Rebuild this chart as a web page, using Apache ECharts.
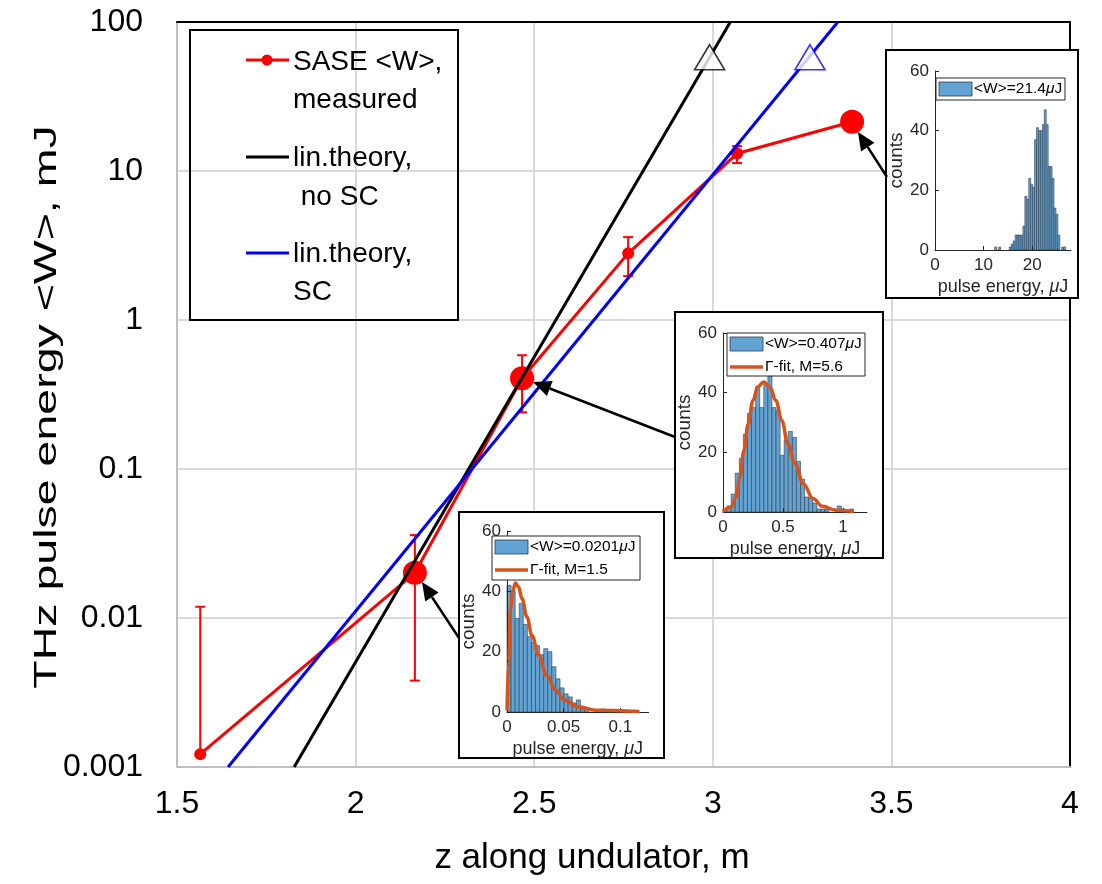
<!DOCTYPE html>
<html><head><meta charset="utf-8">
<script src="https://cdn.jsdelivr.net/npm/echarts@6/dist/echarts.min.js"></script>
<style>html,body{margin:0;padding:0;background:#fff}#c{width:1102px;height:884px}</style>
</head><body><div id="c"></div>
<script>
// ---------- main chart data ----------
const zMeasured = [1.565, 2.166, 2.466, 2.763, 3.068, 3.39];
const wMeasured = [0.00122, 0.0201, 0.407, 2.8, 13.1, 21.4];
const wErrLow  = [null, 0.0038, 0.24, 1.97, 11.3, null];
const wErrHigh = [0.0119, 0.036, 0.58, 3.6, 14.7, null];
const zLinNoSC = [1.828, 3.049];
const wLinNoSC = [0.001, 100];
const zLinSC = [1.643, 3.35];
const wLinSC = [0.001, 100];
const zSatMarks = [2.991, 3.272];
const wSatMarks = [58, 58];
const xTickLabels = ['1.5', '2', '2.5', '3', '3.5', '4'];
const yTickLabels = ['0.001', '0.01', '0.1', '1', '10', '100'];

// ---------- inset histograms (pulse energy in uJ, counts) ----------
const hist1Centers = [12.5, 13.3, 15.5, 15.9, 16.3, 16.7, 17.1, 17.5, 17.9, 18.3, 18.7, 19.1, 19.5, 19.9, 20.3, 20.7, 21.1, 21.5, 21.9, 22.3, 22.7, 23.1, 23.5, 23.9, 24.3, 24.7, 25.1, 25.5, 25.9, 26.3, 26.7];
const hist1Counts  = [1, 1, 1, 2, 3, 5, 5, 5, 5, 8, 18, 17, 24, 22, 21, 37, 41, 40, 40, 42, 47, 42, 28, 28, 24, 14, 12, 5, 0, 1, 1];
const hist1BinWidth = 0.4;
const hist1Mean = '21.4';

const hist2Centers = [0.017, 0.051, 0.085, 0.119, 0.153, 0.187, 0.221, 0.255, 0.289, 0.323, 0.357, 0.391, 0.425, 0.459, 0.493, 0.527, 0.561, 0.595, 0.629, 0.663, 0.697, 0.731, 0.765, 0.799, 0.833, 0.867, 0.901, 0.935, 0.969, 1.003, 1.037, 1.071];
const hist2Counts  = [1, 2, 6, 13, 18, 26, 33, 35, 42, 35, 43, 46, 35, 34, 19, 24, 27, 25, 17, 11, 5, 5, 3, 1, 1, 1, 0, 0, 2, 1, 0, 1];
const hist2BinWidth = 0.034;
const hist2Mean = '0.407';
const fit2E = [0, 0.069, 0.11, 0.14, 0.175, 0.21, 0.25, 0.29, 0.34, 0.39, 0.44, 0.49, 0.54, 0.60, 0.67, 0.75, 0.83, 0.94, 1.09];
const fit2C = [0.2, 1.7, 5, 11.7, 20.7, 29.6, 37.4, 42, 43.6, 42, 37.4, 30.7, 22.9, 16.2, 9.5, 4.5, 1.9, 0.6, 0.2];
const fit2M = '5.6';

const hist3Centers = [0.0018, 0.0054, 0.009, 0.0126, 0.0162, 0.0198, 0.0234, 0.027, 0.0306, 0.0342, 0.0378, 0.0414, 0.045, 0.0486, 0.0522, 0.0558, 0.0594, 0.063, 0.0666, 0.0702, 0.0738, 0.0774, 0.081, 0.0846, 0.0882];
const hist3Counts  = [42, 40, 31, 36, 29, 25, 23, 22, 19, 21, 20, 15, 11, 8, 6, 5, 3, 4, 1, 1, 0, 0, 0, 1, 0];
const hist3BinWidth = 0.0036;
const hist3Mean = '0.0201';
const fit3E = [0, 0.0015, 0.003, 0.005, 0.0074, 0.0103, 0.0132, 0.0176, 0.022, 0.028, 0.035, 0.043, 0.051, 0.063, 0.078, 0.117];
const fit3C = [0.5, 17, 34, 40, 42.8, 41.4, 37.6, 31.5, 25.4, 18.8, 12.2, 7.2, 3.9, 1.7, 0.6, 0.2];
const fit3M = '1.5';

// ---------- styling ----------
const FONT = 'Liberation Sans';
const AX = '#262626';
const HIST_FILL = '#62a3d3';
const HIST_EDGE = '#2a3f52';
const FIT = '#d95319';
const GRIDC = '#d9d9d9';

const chart = echarts.init(document.getElementById('c'), null, {renderer: 'canvas'});

function histSeries(idx, centers, counts, width) {
  return {
    type: 'custom', xAxisIndex: idx, yAxisIndex: idx, z: 15, clip: false,
    data: centers.map((c, i) => [c, counts[i]]),
    renderItem(params, api) {
      const c = api.value(0), h = api.value(1);
      if (!h) return null;
      const p0 = api.coord([c - width / 2, 0]);
      const p1 = api.coord([c + width / 2, h]);
      return {type: 'rect', shape: {x: p0[0], y: p1[1], width: p1[0] - p0[0], height: p0[1] - p1[1]},
        style: {fill: HIST_FILL, stroke: HIST_EDGE, lineWidth: 0.6}};
    }
  };
}
function fitSeries(idx, es, cs) {
  return {type: 'line', xAxisIndex: idx, yAxisIndex: idx, z: 16, data: es.map((e, i) => [e, cs[i]]),
    showSymbol: false, symbol: 'none', smooth: 0.4, smoothMonotone: 'x',
    lineStyle: {color: FIT, width: 3.5}, silent: true};
}
function insetX(grid, max, interval) {
  return {type: 'value', gridIndex: grid, min: 0, max: max, interval: interval, z: 15,
    axisLine: {show: true, onZero: false, lineStyle: {color: AX, width: 1}},
    axisTick: {show: true, inside: true, length: 4, lineStyle: {color: AX}},
    axisLabel: {fontSize: 17, color: AX, fontFamily: FONT, margin: 7, showMaxLabel: false},
    splitLine: {show: false},
    name: 'pulse energy, {i|μ}J', nameLocation: 'middle', nameGap: 28,
    nameTextStyle: {fontSize: 18, color: AX, fontFamily: FONT, rich: {i: {fontStyle: 'italic', fontSize: 18, color: AX, fontFamily: FONT}}}};
}
function insetY(grid) {
  return {type: 'value', gridIndex: grid, min: 0, max: 60, interval: 20, z: 15,
    axisLine: {show: true, onZero: false, lineStyle: {color: AX, width: 1}},
    axisTick: {show: true, inside: true, length: 4, lineStyle: {color: AX}},
    axisLabel: {fontSize: 17, color: AX, fontFamily: FONT, margin: 6},
    splitLine: {show: false},
    name: 'counts', nameLocation: 'middle', nameGap: 25,
    nameTextStyle: {fontSize: 19, color: AX, fontFamily: FONT}};
}
function arrow(x1, y1, x2, y2) {
  const a = Math.atan2(y2 - y1, x2 - x1), L = 18, W = 8;
  const bx = x2 - L * Math.cos(a), by = y2 - L * Math.sin(a);
  const nx = -Math.sin(a) * W, ny = Math.cos(a) * W;
  return [
    {type: 'line', z: 30, shape: {x1: x1, y1: y1, x2: bx, y2: by}, style: {stroke: '#000', lineWidth: 2.5}},
    {type: 'polygon', z: 30, shape: {points: [[x2, y2], [bx + nx, by + ny], [bx - nx, by - ny]]}, style: {fill: '#000'}}
  ];
}
function txt(x, y, text, size, extra) {
  return Object.assign({type: 'text', z: 30, x: x, y: y,
    style: {text: text, fontSize: size, fontFamily: FONT, fill: '#000', align: 'left', verticalAlign: 'middle'}}, extra || {});
}
function insetLegend(x, y, w, h, mean, fitM) {
  const els = [
    {type: 'rect', z: 20, shape: {x: x, y: y, width: w, height: h}, style: {fill: '#fff', stroke: AX, lineWidth: 1}},
    {type: 'rect', z: 21, shape: {x: x + 3, y: y + 4, width: 33, height: 14}, style: {fill: HIST_FILL, stroke: HIST_EDGE, lineWidth: 0.8}},
    {type: 'text', z: 21, x: x + 38, y: y + 11, style: {text: '<W>=' + mean + '{i|μ}J', fontSize: 15.5, fontFamily: FONT, fill: '#000', verticalAlign: 'middle',
      rich: {i: {fontStyle: 'italic', fontSize: 15.5, fontFamily: FONT, fill: '#000'}}}}
  ];
  if (fitM) {
    els.push({type: 'line', z: 21, shape: {x1: x + 3, y1: y + 34, x2: x + 36, y2: y + 34}, style: {stroke: FIT, lineWidth: 3.5}});
    els.push({type: 'text', z: 21, x: x + 38, y: y + 34, style: {text: 'Γ-fit, M=' + fitM, fontSize: 15.5, fontFamily: FONT, fill: '#000', verticalAlign: 'middle'}});
  }
  return els;
}

const graphics = [
  // main legend
  {type: 'rect', z: 30, shape: {x: 190, y: 30, width: 268, height: 290}, style: {fill: 'none', stroke: '#000', lineWidth: 2}},
  {type: 'line', z: 30, shape: {x1: 246, y1: 60, x2: 289, y2: 60}, style: {stroke: '#f00', lineWidth: 3}},
  {type: 'circle', z: 30, shape: {cx: 267, cy: 60, r: 5.5}, style: {fill: '#f00'}},
  txt(293, 62, 'SASE <W>,', 28), txt(293, 100, 'measured', 28),
  {type: 'line', z: 30, shape: {x1: 246, y1: 157, x2: 289, y2: 157}, style: {stroke: '#000', lineWidth: 3}},
  txt(293, 158, 'lin.theory,', 28), txt(293, 197, ' no SC', 28),
  {type: 'line', z: 30, shape: {x1: 246, y1: 253, x2: 289, y2: 253}, style: {stroke: '#00f', lineWidth: 3}},
  txt(293, 254, 'lin.theory,', 28), txt(293, 292, 'SC', 28),
  // axis titles
  {type: 'text', z: 30, x: 47, y: 407, rotation: Math.PI / 2, scaleX: 1.5,
    style: {text: 'THz pulse energy <W>, mJ', fontSize: 31, fontFamily: FONT, fill: '#000', align: 'center', verticalAlign: 'middle'}},
  {type: 'text', z: 30, x: 592, y: 858,
    style: {text: 'z along undulator, m', fontSize: 35, fontFamily: FONT, fill: '#000', align: 'center', verticalAlign: 'middle'}},
  // inset frames
  {type: 'rect', z: 10, shape: {x: 886, y: 50, width: 192, height: 248}, style: {fill: '#fff', stroke: '#000', lineWidth: 2}},
  {type: 'rect', z: 10, shape: {x: 675, y: 312, width: 208, height: 246}, style: {fill: '#fff', stroke: '#000', lineWidth: 2}},
  {type: 'rect', z: 10, shape: {x: 459, y: 512, width: 205, height: 246}, style: {fill: '#fff', stroke: '#000', lineWidth: 2}},
  ...insetLegend(936, 78, 129, 22, hist1Mean, null),
  ...insetLegend(727, 333, 138, 43, hist2Mean, fit2M),
  ...insetLegend(492, 536, 148, 44, hist3Mean, fit3M),
  ...arrow(459, 638, 422, 582),
  ...arrow(675, 437, 533, 382),
  ...arrow(887, 177, 858, 132)
];

const option = {
  animation: false,
  backgroundColor: '#fff',
  grid: [
    {left: 177, right: 32, top: 22, bottom: 117, outerBoundsMode: 'none'},
    {left: 935, top: 71, width: 136, height: 179, z: 15, outerBoundsMode: 'none'},
    {left: 723, top: 333, width: 144, height: 179, z: 15, outerBoundsMode: 'none'},
    {left: 507, top: 531, width: 141.6, height: 181, z: 15, outerBoundsMode: 'none'}
  ],
  xAxis: [
    {type: 'value', gridIndex: 0, min: 1.5, max: 4, interval: 0.5,
      axisLine: {show: true, onZero: false, lineStyle: {color: '#bfbfbf', width: 2}},
      axisTick: {show: false},
      axisLabel: {fontSize: 32, color: '#000', fontFamily: FONT, margin: 21,
        formatter: (v) => xTickLabels[Math.round((v - 1.5) / 0.5)] || ''},
      splitLine: {show: true, lineStyle: {color: GRIDC, width: 2}}},
    {type: 'value', gridIndex: 0, position: 'top', min: 1.5, max: 4,
      axisLine: {show: true, onZero: false, lineStyle: {color: '#000', width: 2}},
      axisTick: {show: false}, axisLabel: {show: false}, splitLine: {show: false}},
    insetX(1, 28, 10),
    insetX(2, 1.2, 0.5),
    insetX(3, 0.125, 0.05)
  ],
  yAxis: [
    {type: 'log', logBase: 10, gridIndex: 0, min: 0.001, max: 100,
      axisLine: {show: true, onZero: false, lineStyle: {color: '#bfbfbf', width: 2}},
      axisTick: {show: false},
      axisLabel: {fontSize: 32, color: '#000', fontFamily: FONT, margin: 34,
        formatter: (v) => yTickLabels[Math.round(Math.log10(v) + 3)] || ''},
      splitLine: {show: true, lineStyle: {color: GRIDC, width: 2}}},
    {type: 'log', logBase: 10, gridIndex: 0, position: 'right', min: 0.001, max: 100,
      axisLine: {show: true, onZero: false, lineStyle: {color: '#000', width: 2}},
      axisTick: {show: false}, axisLabel: {show: false}, splitLine: {show: false}},
    insetY(1), insetY(2), insetY(3)
  ],
  graphic: {elements: graphics},
  series: [
    {name: 'SASE <W>, measured', type: 'line', xAxisIndex: 0, yAxisIndex: 0, z: 2,
      data: zMeasured.map((z, i) => [z, wMeasured[i]]),
      symbol: 'circle', showAllSymbol: true,
      symbolSize: (v, p) => ([1, 2, 5].indexOf(p.dataIndex) >= 0 ? 24 : 12),
      itemStyle: {color: '#f00'}, lineStyle: {color: '#f00', width: 3}},
    {type: 'custom', xAxisIndex: 0, yAxisIndex: 0, z: 2,
      data: zMeasured.map((z, i) => [z, wMeasured[i]]),
      renderItem(params, api) {
        const i = params.dataIndex;
        const lo = wErrLow[i], hi = wErrHigh[i];
        if (lo == null && hi == null) return null;
        const pTop = api.coord([zMeasured[i], hi != null ? hi : wMeasured[i]]);
        const pBot = api.coord([zMeasured[i], lo != null ? lo : wMeasured[i]]);
        const st = {stroke: '#f00', lineWidth: 2};
        const ch = [{type: 'line', shape: {x1: pTop[0], y1: pTop[1], x2: pBot[0], y2: pBot[1]}, style: st}];
        if (hi != null) ch.push({type: 'line', shape: {x1: pTop[0] - 5, y1: pTop[1], x2: pTop[0] + 5, y2: pTop[1]}, style: st});
        if (lo != null) ch.push({type: 'line', shape: {x1: pBot[0] - 5, y1: pBot[1], x2: pBot[0] + 5, y2: pBot[1]}, style: st});
        return {type: 'group', children: ch};
      }},
    {name: 'lin.theory, no SC', type: 'line', xAxisIndex: 0, yAxisIndex: 0, z: 3,
      data: zLinNoSC.map((z, i) => [z, wLinNoSC[i]]), symbol: 'none',
      lineStyle: {color: '#000', width: 3}},
    {name: 'lin.theory, SC', type: 'line', xAxisIndex: 0, yAxisIndex: 0, z: 3,
      data: zLinSC.map((z, i) => [z, wLinSC[i]]), symbol: 'none',
      lineStyle: {color: '#00f', width: 3}},
    {type: 'scatter', xAxisIndex: 0, yAxisIndex: 0, z: 4, symbol: 'triangle', symbolSize: [30, 25],
      data: zSatMarks.map((z, i) => ({value: [z, wSatMarks[i]],
        itemStyle: {color: '#fff', borderColor: i === 0 ? '#000' : '#00f', borderWidth: 1.6}}))},
    histSeries(2, hist1Centers, hist1Counts, hist1BinWidth),
    histSeries(3, hist2Centers, hist2Counts, hist2BinWidth),
    histSeries(4, hist3Centers, hist3Counts, hist3BinWidth),
    fitSeries(3, fit2E, fit2C),
    fitSeries(4, fit3E, fit3C)
  ]
};
chart.setOption(option);
</script>
</body></html>
